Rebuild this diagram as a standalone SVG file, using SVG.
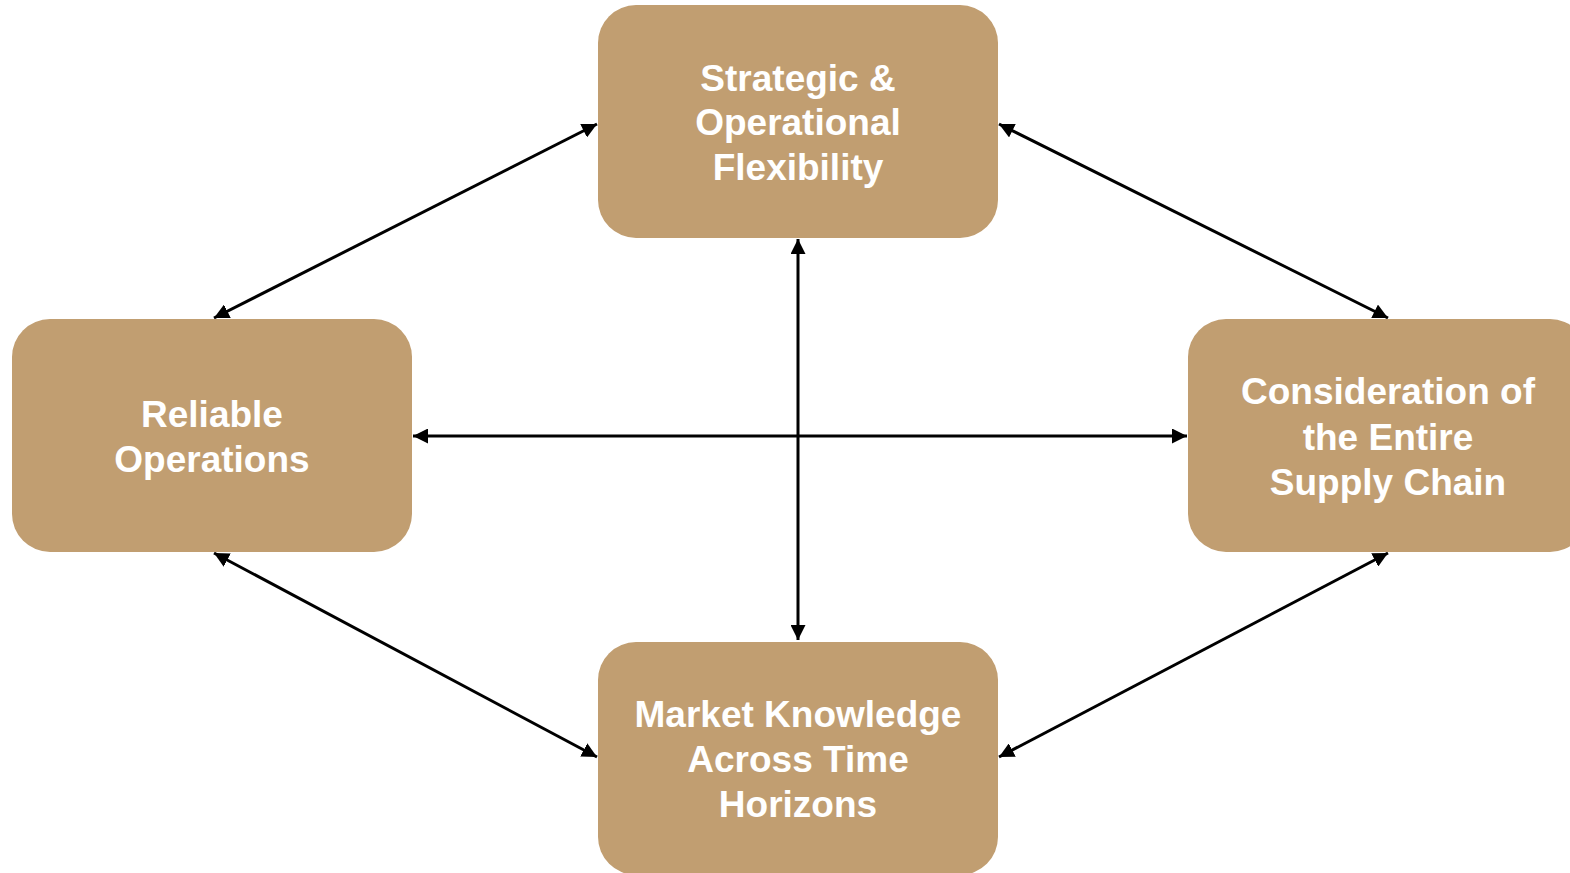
<svg xmlns="http://www.w3.org/2000/svg" width="1570" height="873" viewBox="0 0 1570 873">
  <style>
    .box { fill: #C19E71; }
    .label { font-family: "Liberation Sans", Arial, sans-serif; font-weight: bold; font-size: 37px; fill: #FFFFFF; text-anchor: middle; }
    .link { stroke: #000000; stroke-width: 3; fill: none; marker-start: url(#arrow); marker-end: url(#arrow); }
  </style>
  <defs>
    <marker id="arrow" viewBox="0 0 10 10" refX="10" refY="5" markerWidth="5" markerHeight="5" markerUnits="strokeWidth" orient="auto-start-reverse">
      <path d="M0,0 L10,5 L0,10 Z" fill="#000000"/>
    </marker>
  </defs>
  <rect width="1570" height="873" fill="#FFFFFF"/>

  <g id="connectors">
    <line class="link" x1="597" y1="124" x2="214" y2="318"/>
    <line class="link" x1="999" y1="124" x2="1388" y2="318"/>
    <line class="link" x1="798" y1="239" x2="798" y2="640"/>
    <line class="link" x1="413" y1="436" x2="1187" y2="436"/>
    <line class="link" x1="214" y1="553" x2="597" y2="757"/>
    <line class="link" x1="1388" y1="553" x2="999" y2="757"/>
  </g>

  <g id="node-flexibility">
    <rect class="box" x="598" y="5" width="400" height="233" rx="38" ry="38"/>
    <text class="label" x="798" y="91">Strategic &amp;</text>
    <text class="label" x="798" y="135">Operational</text>
    <text class="label" x="798" y="180">Flexibility</text>
  </g>

  <g id="node-reliable">
    <rect class="box" x="12" y="319" width="400" height="233" rx="38" ry="38"/>
    <text class="label" x="212" y="427">Reliable</text>
    <text class="label" x="212" y="472">Operations</text>
  </g>

  <g id="node-supply-chain">
    <rect class="box" x="1188" y="319" width="400" height="233" rx="38" ry="38"/>
    <text class="label" x="1388" y="404">Consideration of</text>
    <text class="label" x="1388" y="450">the Entire</text>
    <text class="label" x="1388" y="495">Supply Chain</text>
  </g>

  <g id="node-market">
    <rect class="box" x="598" y="642" width="400" height="233" rx="38" ry="38"/>
    <text class="label" x="798" y="727">Market Knowledge</text>
    <text class="label" x="798" y="772">Across Time</text>
    <text class="label" x="798" y="817">Horizons</text>
  </g>
</svg>
